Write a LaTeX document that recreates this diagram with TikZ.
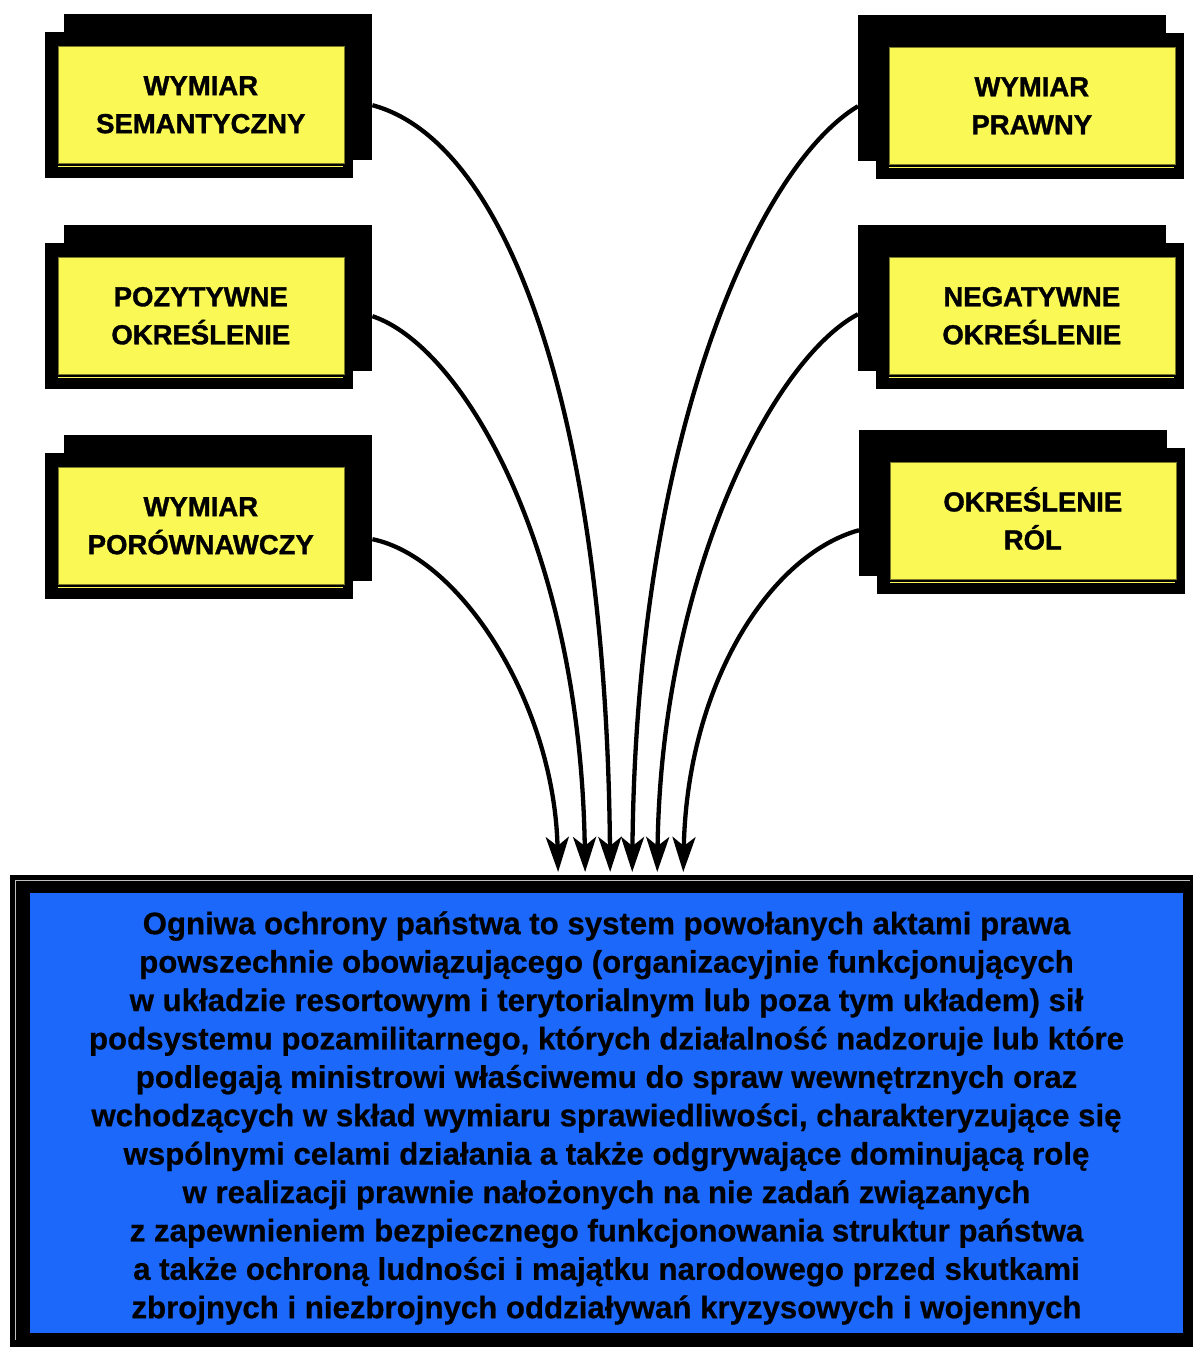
\documentclass[tikz,border=0pt]{standalone}
\usepackage{fontspec}
\setmainfont{Liberation Sans}
\newfontfamily\labelfont[BoldFeatures={FakeBold=1.2}]{Liberation Sans}
\newfontfamily\bodyfont[BoldFeatures={FakeBold=0.6}]{Liberation Sans}
\usetikzlibrary{arrows.meta}

\definecolor{panelyellow}{RGB}{250,248,85}
\definecolor{panelline}{RGB}{120,120,40}
\definecolor{mainblue}{RGB}{28,104,250}

\tikzset{
  backplate/.style={fill=black, inner sep=0pt, minimum width=308pt, minimum height=146pt, anchor=north west},
  frontplate/.style={fill=black, inner sep=0pt, minimum width=308pt, minimum height=146pt, anchor=north west},
  yellowface/.style={fill=panelyellow, draw=panelline, line width=0.6pt, inner sep=0pt,
    minimum width=286pt, minimum height=117pt, anchor=north west},
  paneltext/.style={align=center, inner sep=0pt, font=\labelfont\bfseries\fontsize{27.5}{38}\selectfont},
  conn/.style={line width=4.3pt, -{Stealth[length=35pt, width=23pt, inset=9pt]}, shorten >=3pt},
}

% #1 name, #2/#3 top-left of front plate, #4 horizontal offset of back plate, #5 label
\newcommand{\gatebox}[5]{%
  \node[backplate] (#1b) at (#2+#4,#3-18) {};
  \node[frontplate] (#1) at (#2,#3) {};
  \node[yellowface] (#1y) at (#2+12.5,#3+14) {};
  \draw[panelyellow, line width=0.8pt] (#2+12.5,#3+134) -- (#2+298,#3+134);
  \node[paneltext] (#1t) at (#1y.center) {#5};
}

\begin{document}
\begin{tikzpicture}[x=1pt, y=-1pt]
\useasboundingbox (0,0) rectangle (1193,1350);
\fill[white] (0,0) rectangle (1193,1350);

% left column
\gatebox{sem}{45}{32}{19}{WYMIAR\\SEMANTYCZNY}
\gatebox{poz}{45}{243}{19}{POZYTYWNE\\OKRE\smash{Ś}LENIE}
\gatebox{por}{45}{453}{19}{WYMIAR\\POR\smash{Ó}WNAWCZY}

% right column
\gatebox{pra}{876}{33}{-18}{WYMIAR\\PRAWNY}
\gatebox{neg}{876}{243}{-18}{NEGATYWNE\\OKRE\smash{Ś}LENIE}
\gatebox{rol}{877}{448}{-18}{OKRE\smash{Ś}LENIE\\R\smash{Ó}L}

% main definition panel
\node[fill=black, inner sep=0pt, minimum width=1183pt, minimum height=472pt, anchor=north west] (main) at (10,875) {};
\fill[mainblue] (30,893) rectangle (1183,1333);
\draw[black!25, line width=0.8pt] (15,1340) -- (15,880.5) -- (1190,880.5);
\node[align=center, inner sep=0pt, font=\bodyfont\bfseries\fontsize{31.2}{38.4}\selectfont] (txt) at (606.5,1118) {%
Ogniwa ochrony państwa to system powołanych aktami prawa\\
powszechnie obowiązującego (organizacyjnie funkcjonujących\\
w układzie resortowym i terytorialnym lub poza tym układem) sił\\
podsystemu pozamilitarnego, których działalność nadzoruje lub które\\
podlegają ministrowi właściwemu do spraw wewnętrznych oraz\\
wchodzących w skład wymiaru sprawiedliwości, charakteryzujące się\\
wspólnymi celami działania a także odgrywające dominującą rolę\\
w realizacji prawnie nałożonych na nie zadań związanych\\
z zapewnieniem bezpiecznego funkcjonowania struktur państwa\\
a także ochroną ludności i majątku narodowego przed skutkami\\
zbrojnych i niezbrojnych oddziaływań kryzysowych i wojennych};

% connectors from the panels into the main panel
\draw[conn] (sem.center -| semb.east) .. controls +(138,37) and +(-4,-452) .. ([xshift=8.5pt]main.north);
\draw[conn] (poz.center -| pozb.east) .. controls +(90,30) and +(-5,-328) .. ([xshift=-16.5pt]main.north);
\draw[conn] ([yshift=-13pt]por.center -| porb.east) .. controls +(88,18) and +(-4,-172) .. ([xshift=-43.5pt]main.north);
\draw[conn] (pra.center -| prab.west) .. controls +(-100,60) and +(4,-440) .. ([xshift=30.5pt]main.north);
\draw[conn] ([yshift=2pt]neg.center -| negb.west) .. controls +(-85,45) and +(4,-300) .. ([xshift=55.5pt]main.north);
\draw[conn] ([yshift=-9pt]rol.center -| rolb.west) .. controls +(-90,25) and +(4,-190) .. ([xshift=81.5pt]main.north);
\end{tikzpicture}
\end{document}
